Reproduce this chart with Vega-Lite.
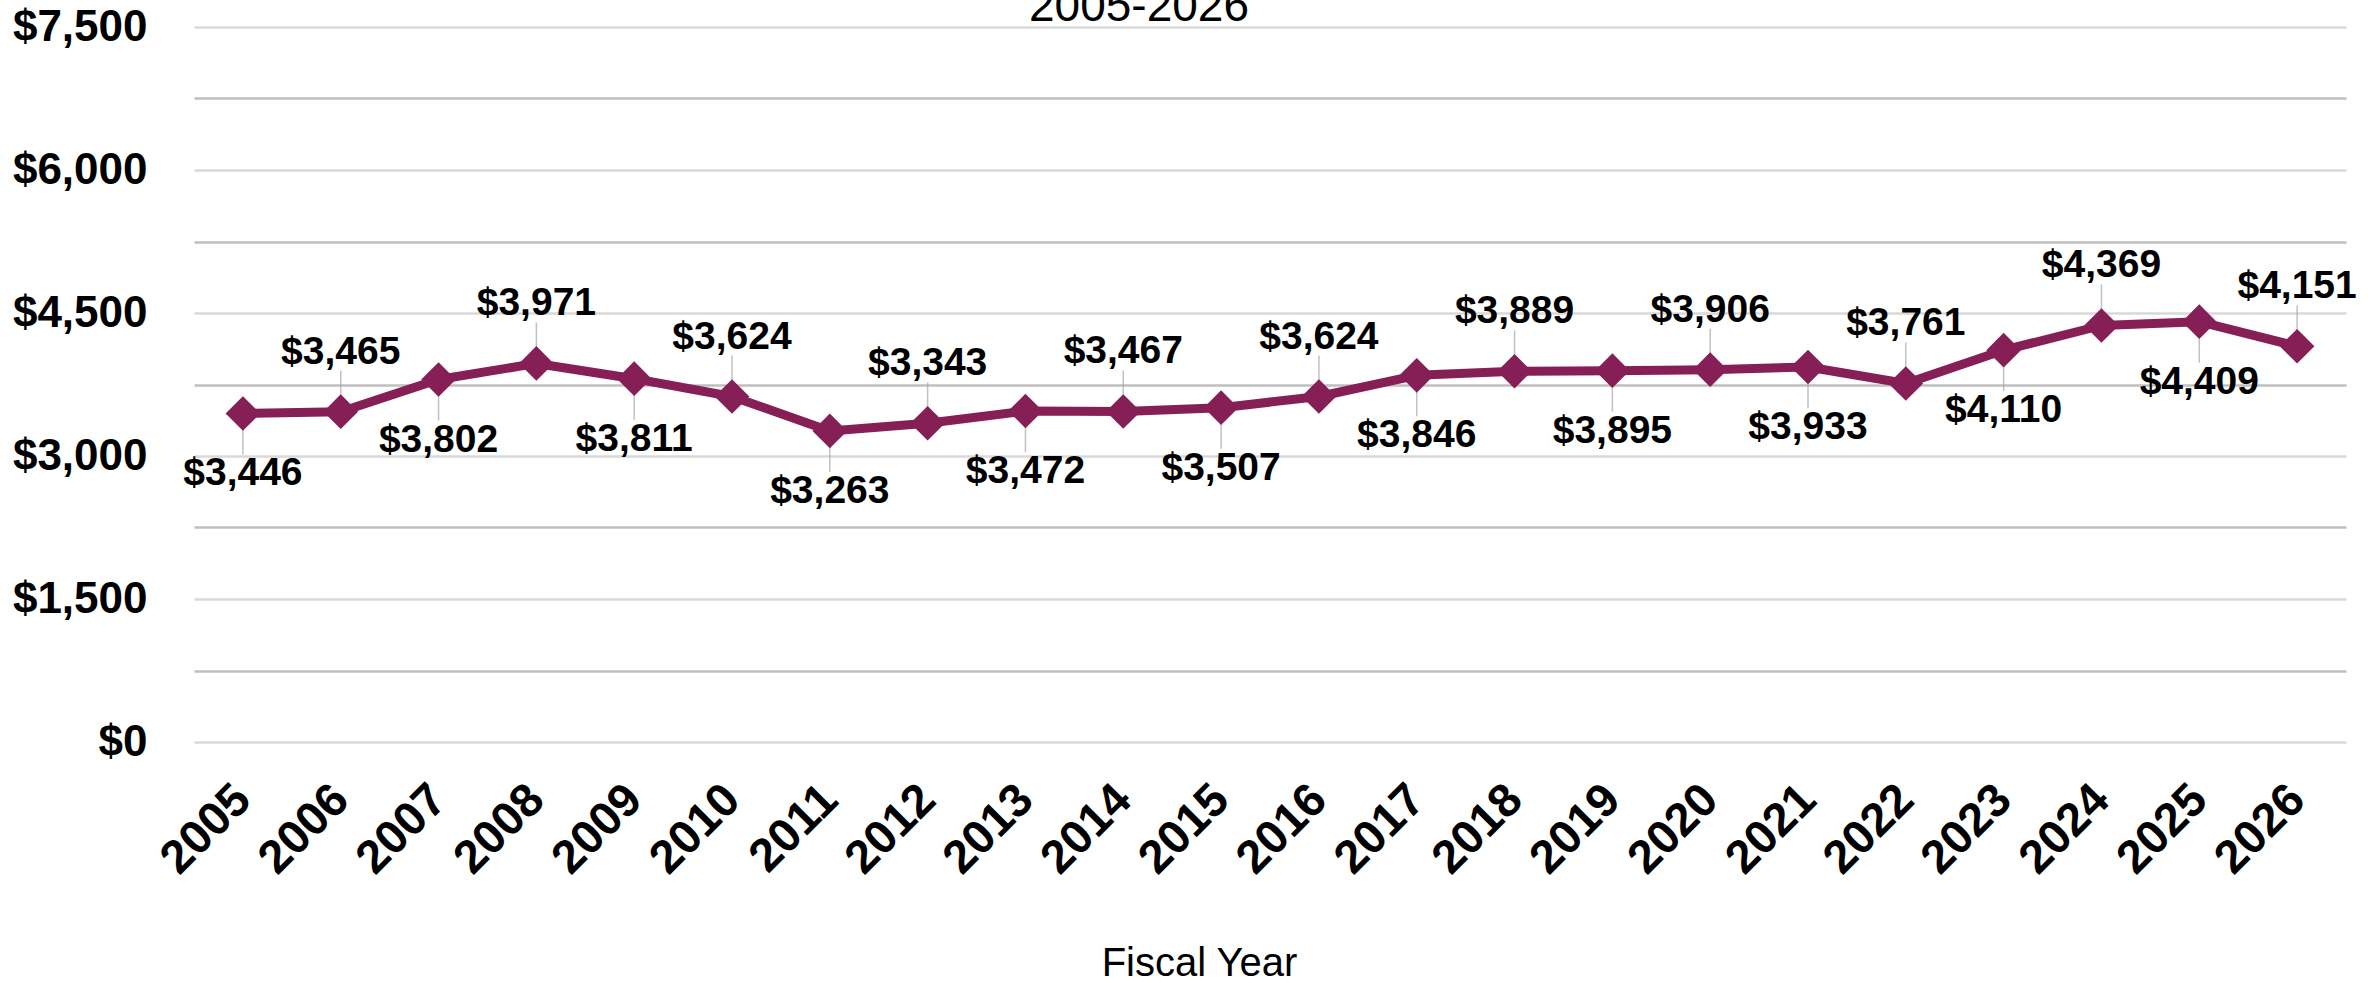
{
  "$schema": "https://vega.github.io/schema/vega-lite/v6.json",
  "autosize": {"type": "none"},
  "width": 2152,
  "height": 715,
  "padding": {"left": 194, "top": 27, "right": 30, "bottom": 241},
  "background": "white",
  "title": {
    "text": "2005-2026",
    "font": "Liberation Sans",
    "fontSize": 46,
    "fontWeight": "normal",
    "color": "#000000",
    "anchor": "middle",
    "dx": -131,
    "dy": 32,
    "offset": 6
  },
  "config": {
    "view": {"stroke": null},
    "font": "Liberation Sans"
  },
  "data": {
    "values": [
      {"year": 2005, "value": 3446},
      {"year": 2006, "value": 3465},
      {"year": 2007, "value": 3802},
      {"year": 2008, "value": 3971},
      {"year": 2009, "value": 3811},
      {"year": 2010, "value": 3624},
      {"year": 2011, "value": 3263},
      {"year": 2012, "value": 3343},
      {"year": 2013, "value": 3472},
      {"year": 2014, "value": 3467},
      {"year": 2015, "value": 3507},
      {"year": 2016, "value": 3624},
      {"year": 2017, "value": 3846},
      {"year": 2018, "value": 3889},
      {"year": 2019, "value": 3895},
      {"year": 2020, "value": 3906},
      {"year": 2021, "value": 3933},
      {"year": 2022, "value": 3761},
      {"year": 2023, "value": 4110},
      {"year": 2024, "value": 4369},
      {"year": 2025, "value": 4409},
      {"year": 2026, "value": 4151}
    ]
  },
  "encoding": {
    "x": {
      "field": "year",
      "type": "ordinal",
      "scale": {"type": "point", "padding": 0.5},
      "axis": {
        "title": "Fiscal Year",
        "titleFont": "Liberation Sans",
        "titleFontSize": 40,
        "titleFontWeight": "normal",
        "titleColor": "#000000",
        "titleX": 1005,
        "titleY": 221,
        "titleBaseline": "middle",
        "labelAngle": -45,
        "labelAlign": "right",
        "labelBaseline": "middle",
        "labelFont": "Liberation Sans",
        "labelFontSize": 47,
        "labelFontWeight": "bold",
        "labelColor": "#000000",
        "labelPadding": 50,
        "ticks": false,
        "domain": false,
        "grid": false
      }
    },
    "y": {
      "field": "value",
      "type": "quantitative",
      "scale": {"domain": [0, 7500], "nice": false},
      "axis": {
        "title": null,
        "values": [0, 750, 1500, 2250, 3000, 3750, 4500, 5250, 6000, 6750, 7500],
        "labelExpr": "datum.value % 1500 === 0 ? '$' + format(datum.value, ',') : ''",
        "labelFont": "Liberation Sans",
        "labelFontSize": 44,
        "labelFontWeight": "bold",
        "labelColor": "#000000",
        "labelPadding": 47,
        "ticks": false,
        "domain": false,
        "grid": true,
        "gridColor": {"condition": {"test": "datum.value % 1500 === 0", "value": "#d9d9d9"}, "value": "#bfbfbf"},
        "gridWidth": 2.5
      }
    }
  },
  "layer": [
    {
      "transform": [{"filter": "datum.year % 2 === 0"}],
      "mark": {"type": "tick", "orient": "vertical", "size": 30, "thickness": 1.5, "color": "#a6a6a6", "yOffset": -26}
    },
    {
      "transform": [{"filter": "datum.year % 2 === 1"}],
      "mark": {"type": "tick", "orient": "vertical", "size": 30, "thickness": 1.5, "color": "#a6a6a6", "yOffset": 26}
    },
    {
      "mark": {"type": "line", "color": "#861F56", "strokeWidth": 9, "strokeJoin": "round"}
    },
    {
      "mark": {"type": "point", "shape": "diamond", "filled": true, "opacity": 1, "size": 1200, "color": "#861F56"}
    },
    {
      "transform": [{"filter": "datum.year % 2 === 0"}],
      "mark": {"type": "text", "font": "Liberation Sans", "fontSize": 39, "fontWeight": "bold", "color": "#000000", "dy": -60, "baseline": "middle"},
      "encoding": {"text": {"field": "value", "type": "quantitative", "format": "$,.0f"}}
    },
    {
      "transform": [{"filter": "datum.year % 2 === 1"}],
      "mark": {"type": "text", "font": "Liberation Sans", "fontSize": 39, "fontWeight": "bold", "color": "#000000", "dy": 60, "baseline": "middle"},
      "encoding": {"text": {"field": "value", "type": "quantitative", "format": "$,.0f"}}
    }
  ]
}
